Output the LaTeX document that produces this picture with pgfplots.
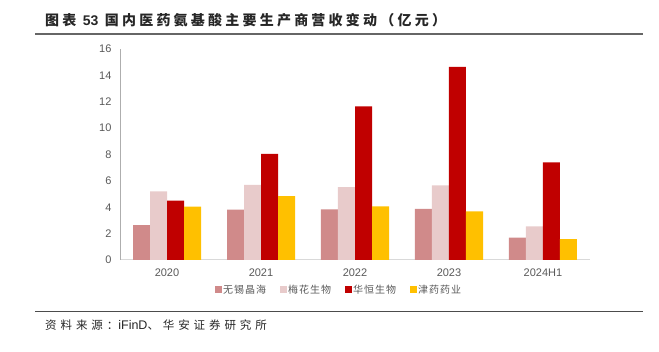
\documentclass[border=0pt]{standalone}
\usepackage{fontspec}
\usepackage{pgfplots}
\pgfplotsset{compat=1.18}
\setmainfont{Liberation Sans}
\newfontfamily\cjk{Noto Sans CJK SC}[LetterSpace=10]
\newfontfamily\cjkt{Noto Sans CJK SC}[LetterSpace=23]
\newfontfamily\cjks{Noto Sans CJK SC}[LetterSpace=34]
\definecolor{cA}{HTML}{D08A8A}
\definecolor{cB}{HTML}{E8CBCB}
\definecolor{cC}{HTML}{C00000}
\definecolor{cD}{HTML}{FFC000}
\definecolor{tick}{HTML}{595959}
\definecolor{axl}{HTML}{D9D9D9}
\begin{document}
\begin{tikzpicture}
\path (0pt,0pt) rectangle (659pt,351pt);
\node[anchor=west,inner sep=0pt,text=black!85] at (45pt,331pt) {\cjkt\bfseries\fontsize{14}{16}\selectfont 图表 {\fontspec{Liberation Sans}\bfseries 53} 国内医药氨基酸主要生产商营收变动（亿元）};
\draw[line width=1.2pt,black!60] (35pt,317pt) -- (643pt,317pt);
\draw[line width=0.8pt,black!70] (35pt,40pt) -- (643pt,40pt);
\node[anchor=west,inner sep=0pt,text=black!85] at (45pt,26pt) {\cjks\fontsize{11.5}{13}\selectfont 资料来源：{\fontspec{Liberation Sans}\fontsize{12.5}{14}\selectfont iFinD}、华安证券研究所};
\begin{axis}[
  at={(167pt,91pt)}, anchor=origin,
  scale only axis, width=470pt, height=211pt,
  ymin=0, ymax=16, xmin=-0.5, xmax=4.5,
  ybar=0pt, bar width=17pt,
  xtick={0,1,2,3,4}, xticklabels={2020,2021,2022,2023,2024H1},
  ytick={0,2,...,16},
  axis x line*=bottom, axis y line*=left,
  x axis line style={axl, line width=1pt, -},
  y axis line style={axl!80!black, line width=0.8pt, -},
  major tick length=0pt,
  tick label style={text=tick, font=\fontsize{11}{13}\selectfont},
  /pgf/number format/assume math mode=true,
  xticklabel style={yshift=-5pt},
  yticklabel style={xshift=-5pt},
  legend style={at={(0.465,-0.142)}, anchor=center, draw=none, fill=none,
    legend columns=4, font=\cjk\fontsize{10}{12}\selectfont, text=tick,
    nodes={inner sep=1.5pt},
    /tikz/every even column/.append style={column sep=12pt}},
  legend image code/.code={\draw[#1,draw=none] (0pt,-3.5pt) rectangle (7pt,3.5pt);},
]
\addplot[fill=cA, draw=none] coordinates {(0,2.65) (1,3.82) (2,3.84) (3,3.87) (4,1.69)};
\addplot[fill=cB, draw=none] coordinates {(0,5.2) (1,5.69) (2,5.53) (3,5.66) (4,2.55)};
\addplot[fill=cC, draw=none] coordinates {(0,4.5) (1,8.04) (2,11.65) (3,14.65) (4,7.41)};
\addplot[fill=cD, draw=none] coordinates {(0,4.04) (1,4.85) (2,4.07) (3,3.69) (4,1.59)};
\legend{无锡晶海,梅花生物,华恒生物,津药药业}
\end{axis}
\end{tikzpicture}
\end{document}
